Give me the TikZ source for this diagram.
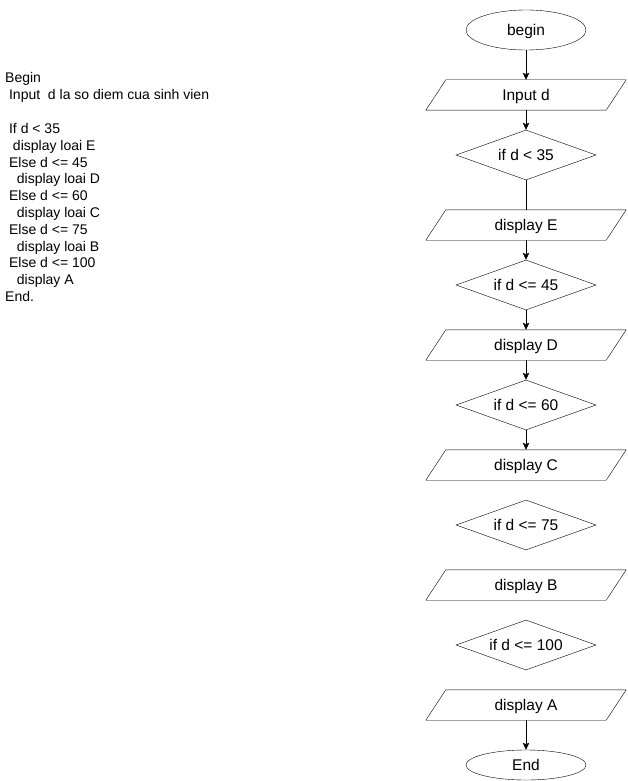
\documentclass[tikz,border=0pt]{standalone}
\usepackage{fontspec}
\setmainfont{Liberation Sans}
\usetikzlibrary{arrows.meta,shapes.geometric}
\tikzset{>={Stealth[length=7pt,width=6.5pt,inset=1.5pt]},line width=1.1pt,
  every node/.style={font=\fontsize{15.5}{18}\selectfont,text height=11pt,text depth=0pt},
  term/.style={draw,ellipse,minimum width=120pt,minimum height=40pt,inner sep=0pt},
  io/.style={minimum width=180pt,minimum height=30pt,inner sep=0pt,
    append after command={\pgfextra{\draw ([xshift=10pt]\tikzlastnode.north west)
      -- ([xshift=10pt]\tikzlastnode.north east) -- ([xshift=-10pt]\tikzlastnode.south east)
      -- ([xshift=-10pt]\tikzlastnode.south west) -- cycle;}}},
  decide/.style={draw,diamond,aspect=2.8,minimum width=140pt,minimum height=50pt,inner sep=0pt},
  note/.style={anchor=base west,inner sep=0pt,font=\fontsize{14}{16.8}\selectfont}}

\begin{document}
\begin{tikzpicture}[x=1pt,y=-1pt]
\useasboundingbox (0,0) rectangle (628,781);
% pseudo code, one line per node (n = line no., i = leading spaces)
\foreach \n/\i/\txt in {1/0/Begin,2/1/{Input\ \ d la so diem cua sinh vien},
  4/1/{If d < 35},5/2/{display loai E},6/1/{Else d <= 45},7/3/{display loai D},
  8/1/{Else d <= 60},9/3/{display loai C},10/1/{Else d <= 75},11/3/{display loai B},
  12/1/{Else d <= 100},13/3/{display A},14/0/{End.}}
  \node[note] (l\n) at (5+\i*3.89,83+\n*16.8-16.8) {\txt};
% flow chart
\node[term] (begin) at (526,30) {begin};
\node[io] (input) at (526,95) {Input d};
\node[decide] (if35) at (526,155) {if d < 35};
\node[io] (dispE) at (526,225) {display E};
\node[decide] (if45) at (526,285) {if d <= 45};
\node[io] (dispD) at (526,345) {display D};
\node[decide] (if60) at (526,405) {if d <= 60};
\node[io] (dispC) at (526,465) {display C};
\node[decide] (if75) at (526,525) {if d <= 75};
\node[io] (dispB) at (526,585) {display B};
\node[decide] (if100) at (526,645) {if d <= 100};
\node[io] (dispA) at (526,705) {display A};
\node[term,minimum height=30pt] (end) at (526,765) {End};
\draw[->] (begin) -- (input);\draw[->] (input) -- (if35);
\draw (if35) -- (dispE);\draw[->] (dispE) -- (if45);
\draw[->] (if45) -- (dispD);\draw[->] (dispD) -- (if60);
\draw[->] (if60) -- (dispC);\draw[->] (dispA) -- (end);
\end{tikzpicture}
\end{document}
